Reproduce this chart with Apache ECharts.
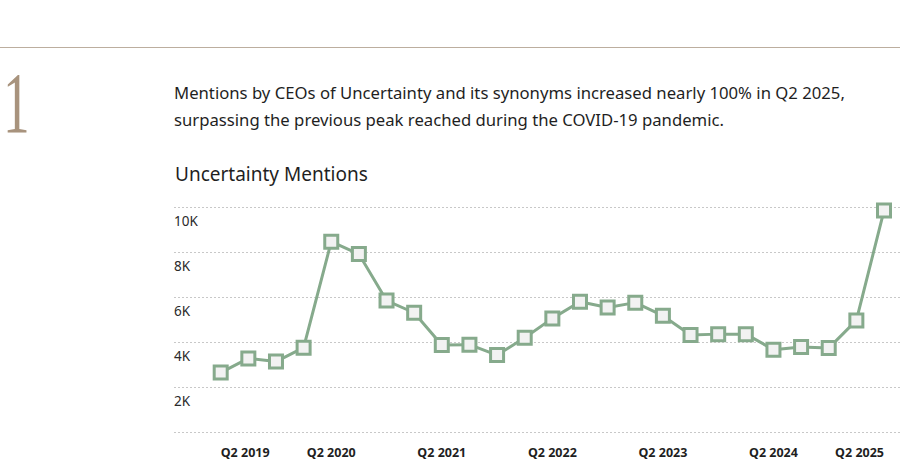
<!DOCTYPE html>
<html><head><meta charset="utf-8">
<script src="https://cdn.jsdelivr.net/npm/echarts@6/dist/echarts.min.js"></script>
<style>html,body{margin:0;padding:0;background:#fff}#c{width:900px;height:460px}</style>
</head><body><div id="c"></div>
<script>
const categories = ['Q2 2019','Q3 2019','Q4 2019','Q1 2020','Q2 2020','Q3 2020','Q4 2020','Q1 2021','Q2 2021','Q3 2021','Q4 2021','Q1 2022','Q2 2022','Q3 2022','Q4 2022','Q1 2023','Q2 2023','Q3 2023','Q4 2023','Q1 2024','Q2 2024','Q3 2024','Q4 2024','Q1 2025','Q2 2025'];
const mentions = [2640,3270,3130,3750,8460,7910,5840,5300,3870,3880,3420,4190,5050,5790,5530,5750,5170,4310,4350,4350,3660,3780,3730,4960,9840];
const yTicks = [0,2000,4000,6000,8000,10000];
const headline = ['Mentions by CEOs of Uncertainty and its synonyms increased nearly 100% in Q2 2025,','surpassing the previous peak reached during the COVID-19 pandemic.'];
const chartTitle = 'Uncertainty Mentions';

const FONT = '"Noto Sans", sans-serif';
const chart = echarts.init(document.getElementById('c'), null, {renderer:'svg'});
chart.setOption({
  animation:false,
  textStyle:{fontFamily:FONT},
  graphic:[
    {type:'line', shape:{x1:0,y1:47.5,x2:900,y2:47.5}, style:{stroke:'#bcae9f', lineWidth:1}},
    {type:'text', x:3, y:60, scaleX:0.62, style:{text:'1', font:'86px "Liberation Serif", serif', fill:'#a8937d'}},
    {type:'text', left:174, top:79, style:{text:headline.join('\n'), font:'16.7px '+FONT, lineHeight:27, fill:'#1f1f1f'}},
    {type:'text', left:175, top:164, style:{text:chartTitle, font:'19px '+FONT, fill:'#1f1f1f'}}
  ],
  grid:[
    {left:220.7, right:16, top:207, bottom:28},
    {left:174, right:0, top:207, bottom:28}
  ],
  xAxis:[
    {type:'category', gridIndex:0, data:categories, boundaryGap:false,
     axisLine:{show:false}, axisTick:{show:false},
     axisLabel:{interval:3, margin:13, fontWeight:'bold', fontSize:12.5, lineHeight:14, color:'#1f1f1f', fontFamily:FONT, alignMinLabel:'left', alignMaxLabel:'right'},
     splitLine:{show:false}},
    {type:'category', gridIndex:1, data:categories, show:false}
  ],
  yAxis:[
    {type:'value', gridIndex:0, min:0, max:10000, interval:2000, show:false, splitLine:{show:false}},
    {type:'value', gridIndex:1, min:yTicks[0], max:yTicks[yTicks.length-1], interval:2000,
     axisLine:{show:false}, axisTick:{show:false},
     axisLabel:{inside:true, margin:0, verticalAlign:'top', padding:[7,0,0,0], fontSize:13.5, color:'#2a2a2a', fontFamily:FONT,
       formatter:v=> v===0 ? '' : (v/1000)+'K'},
     splitLine:{show:true, lineStyle:{type:[2,2], color:'#c8c8c8', width:1}}}
  ],
  series:[{
    type:'line', xAxisIndex:0, yAxisIndex:0, data:mentions,
    symbol:'rect', symbolSize:13, showAllSymbol:true,
    lineStyle:{color:'#86aa8c', width:3},
    itemStyle:{color:'#f2f2f2', borderColor:'#86aa8c', borderWidth:3},
    z:5
  }]
});
</script></body></html>
